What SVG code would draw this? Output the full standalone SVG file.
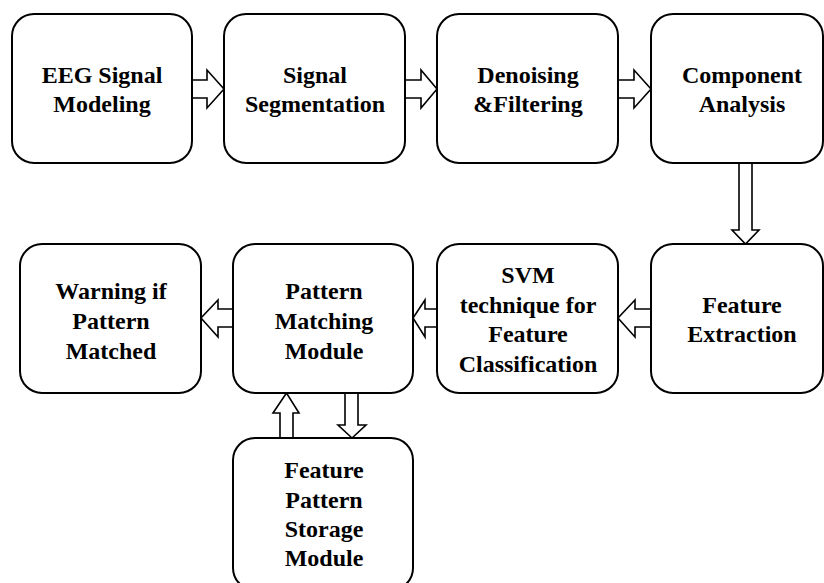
<svg xmlns="http://www.w3.org/2000/svg" width="824" height="583" viewBox="0 0 824 583">
<style>
.box{fill:#fff;stroke:#000;stroke-width:2}
.arr{fill:#fff;stroke:#000;stroke-width:1.6;stroke-linejoin:miter}
.t{font-family:'Liberation Serif',Tinos,'Times New Roman',Times,serif;font-weight:700;font-size:24px;fill:#000;text-anchor:middle}
</style>
<rect width="824" height="583" fill="#fff"/>
<g id="connectors">
<polygon class="arr" points="192,80 207,80 207,70 224,89 207,108 207,98 192,98"/>
<polygon class="arr" points="405,80 421,80 421,70 437,89 421,108 421,98 405,98"/>
<polygon class="arr" points="618,80 634,80 634,70 651,89 634,108 634,98 618,98"/>
<polygon class="arr" points="739,163 752,163 752,230 759,230 745.5,244 732,230 739,230"/>
<polygon class="arr" points="651,309 635,309 635,300 618,318 635,337 635,327 651,327"/>
<polygon class="arr" points="437,309 425,309 425,300 413,318 425,337 425,327 437,327"/>
<polygon class="arr" points="233,309 218,309 218,300 201,318 218,337 218,327 233,327"/>
<polygon class="arr" points="280,438 280,413 273,413 286.5,393 299,413 293,413 293,438"/>
<polygon class="arr" points="345,393 358,393 358,425 366,425 352,438 338,425 345,425"/>
</g>
<g class="t">
<g id="n1"><rect class="box" x="12" y="14" width="180" height="149" rx="22"/><text x="102" y="83">EEG Signal</text><text x="102" y="112">Modeling</text></g>
<g id="n2"><rect class="box" x="224" y="14" width="181" height="149" rx="22"/><text x="315" y="83">Signal</text><text x="315" y="112">Segmentation</text></g>
<g id="n3"><rect class="box" x="437" y="14" width="181" height="149" rx="22"/><text x="528" y="83">Denoising</text><text x="528" y="112">&amp;Filtering</text></g>
<g id="n4"><rect class="box" x="651" y="14" width="172" height="149" rx="22"/><text x="742" y="83">Component</text><text x="742" y="112">Analysis</text></g>
<g id="n5"><rect class="box" x="651" y="244" width="172" height="149" rx="22"/><text x="742" y="313">Feature</text><text x="742" y="342">Extraction</text></g>
<g id="n6"><rect class="box" x="437" y="244" width="181" height="149" rx="22"/><text x="528" y="283">SVM</text><text x="528" y="313">technique for</text><text x="528" y="342">Feature</text><text x="528" y="372">Classification</text></g>
<g id="n7"><rect class="box" x="233" y="244" width="180" height="149" rx="22"/><text x="324" y="299">Pattern</text><text x="324" y="329">Matching</text><text x="324" y="359">Module</text></g>
<g id="n8"><rect class="box" x="20" y="244" width="181" height="149" rx="22"/><text x="111" y="299">Warning if</text><text x="111" y="329">Pattern</text><text x="111" y="359">Matched</text></g>
<g id="n9"><rect class="box" x="233" y="438" width="180" height="152" rx="22"/><text x="324" y="478">Feature</text><text x="324" y="508">Pattern</text><text x="324" y="537">Storage</text><text x="324" y="566">Module</text></g>
</g>
</svg>
